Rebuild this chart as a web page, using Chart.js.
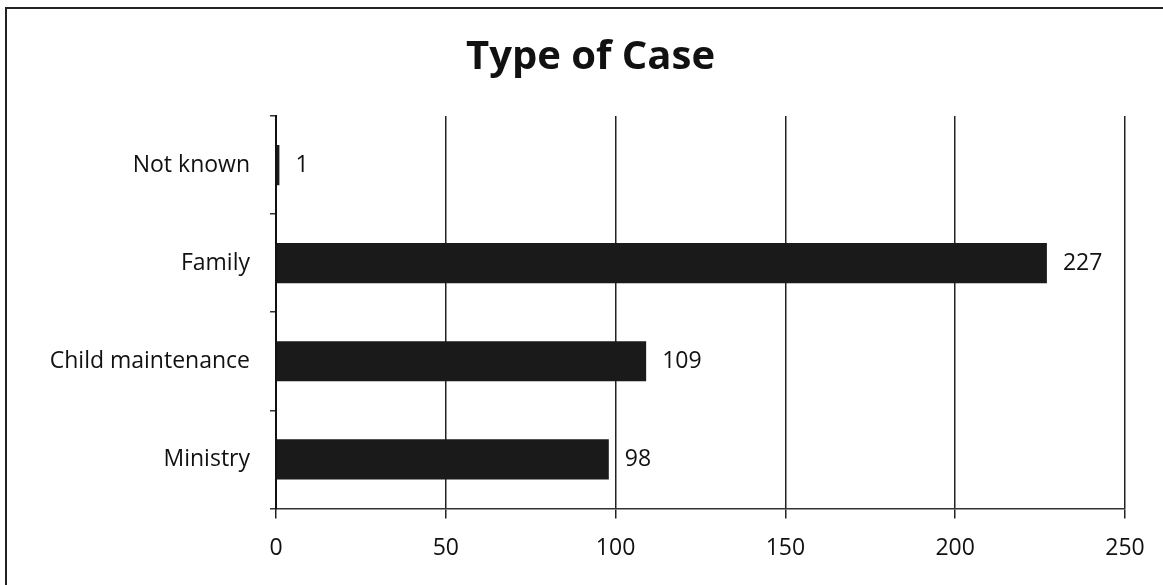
<!DOCTYPE html>
<html>
<head>
<meta charset="utf-8">
<script src="https://cdn.jsdelivr.net/npm/chart.js@4"></script>
<style>
    body { margin: 0; background: #fff; overflow: hidden; }
    #moldura { position: absolute; left: 5px; top: 7px; width: 1200px; height: 620px; border: 2px solid #222; box-sizing: border-box; }
    #grafico { position: absolute; left: 0; top: 0; }
</style>
</head>
<body>
<div id="moldura"></div>
<canvas id="grafico" width="1163" height="585"></canvas>
<script>
const categorias = ['Not known', 'Family', 'Child maintenance', 'Ministry'];
const quantidades = [1, 227, 109, 98];
const ticksX = [0, 50, 100, 150, 200, 250];

const fonte = '"Open Sans", Lato, sans-serif';

// rotulos com o valor no fim de cada barra
const rotulosBarras = {
    id: 'rotulosBarras',
    afterLayout(chart) {
        // titulo um pouco deslocado para a direita, como no original
        if (chart.titleBlock) {
            chart.titleBlock.left += 28;
            chart.titleBlock.right += 28;
        }
    },
    afterDatasetsDraw(chart) {
        const ctx = chart.ctx;
        const meta = chart.getDatasetMeta(0);
        ctx.save();
        ctx.font = '23px ' + fonte;
        ctx.fillStyle = '#111';
        ctx.textAlign = 'left';
        ctx.textBaseline = 'middle';
        meta.data.forEach(function (barra, i) {
            ctx.fillText(String(quantidades[i]), barra.x + 16, barra.y);
        });
        ctx.restore();
    }
};

const config = {
    type: 'bar',
    data: {
        labels: categorias,
        datasets: [{
            data: quantidades,
            backgroundColor: '#1a1a1a',
            borderWidth: 0,
            barPercentage: 0.41,
            categoryPercentage: 1
        }]
    },
    options: {
        indexAxis: 'y',
        responsive: false,
        animation: false,
        layout: { padding: { top: 8, right: 38, bottom: 7, left: 0 } },
        plugins: {
            legend: { display: false },
            tooltip: { enabled: false },
            title: {
                display: true,
                text: 'Type of Case',
                color: '#111',
                font: { family: fonte, size: 40, weight: 'bold' },
                padding: { top: 26, bottom: 34 }
            }
        },
        scales: {
            x: {
                min: 0,
                max: 250,
                afterBuildTicks(scale) {
                    scale.ticks = ticksX.map(v => ({ value: v }));
                },
                grid: { color: '#222', lineWidth: 1.5, tickLength: 10, drawTicks: true },
                border: { display: true, color: '#333', width: 1.5 },
                ticks: { color: '#111', padding: 16, font: { family: fonte, size: 23 } }
            },
            y: {
                afterFit(scale) { scale.width = 276; },
                grid: { drawOnChartArea: false, drawTicks: true, tickLength: 6, color: '#333', lineWidth: 1.5, offset: true },
                border: { display: true, color: '#111', width: 2 },
                ticks: { color: '#111', padding: 20, font: { family: fonte, size: 23 } }
            }
        }
    },
    plugins: [rotulosBarras]
};

new Chart(document.getElementById('grafico'), config);
</script>
</body>
</html>
